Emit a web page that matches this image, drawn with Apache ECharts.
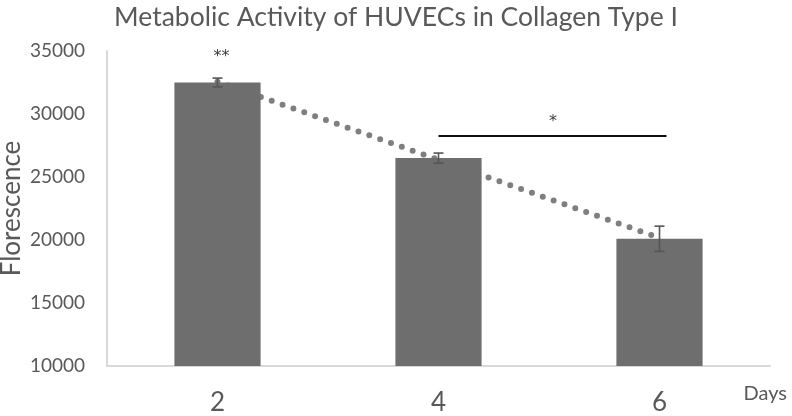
<!DOCTYPE html>
<html>
<head>
<meta charset="utf-8">
<script src="https://cdn.jsdelivr.net/npm/echarts@6/dist/echarts.min.js"></script>
<style>
  html, body { margin: 0; padding: 0; background: #fff; }
  #main { width: 792px; height: 416px; }
</style>
</head>
<body>
<div id="main"></div>
<script>
// data
const days = ['2', '4', '6']
const fluorescence = [32500, 26500, 20100]
const errors = [350, 400, 1000]
// significance annotations (star placed between category indices from..to)
const starLabels = ['**', '*']
const starFrom = [0, 1]
const starTo = [0, 2]
const starY = [34500, 29400]
const bracketFrom = [1]
const bracketTo = [2]
const bracketY = [28250]

const textColor = '#595959'
const font = 'Lato, "Open Sans", sans-serif'

// linear trendline over category index
const n = fluorescence.length
const mx = (n - 1) / 2
const my = fluorescence.reduce((a, b) => a + b, 0) / n
let sxy = 0, sxx = 0
fluorescence.forEach((v, i) => { sxy += (i - mx) * (v - my); sxx += (i - mx) * (i - mx) })
const slope = sxy / sxx
const trend = fluorescence.map((v, i) => my + slope * (i - mx))

const chart = echarts.init(document.getElementById('main'))
const option = {
  animation: false,
  title: {
    text: 'Metabolic Activity of HUVECs in Collagen Type I',
    left: 'center',
    top: -1,
    textStyle: { color: textColor, fontSize: 26.5, fontWeight: 'normal', fontFamily: font }
  },
  grid: { left: 107, right: 22, top: 51, bottom: 50, outerBoundsMode: 'none' },
  xAxis: {
    type: 'category',
    data: days,
    axisTick: { show: false },
    axisLine: { lineStyle: { color: '#d9d9d9', width: 2 } },
    axisLabel: { color: textColor, fontSize: 26, fontFamily: font, margin: 24 },
    name: 'Days',
    nameLocation: 'end',
    nameGap: 17,
    nameTextStyle: {
      color: textColor, fontSize: 20, fontFamily: font,
      align: 'right', verticalAlign: 'top', padding: [18, 0, 0, 0]
    }
  },
  yAxis: {
    type: 'value',
    min: 10000,
    max: 35000,
    interval: 5000,
    splitLine: { show: false },
    axisTick: { show: false },
    axisLine: { show: true, lineStyle: { color: '#d9d9d9', width: 2 } },
    axisLabel: { color: textColor, fontSize: 19, fontFamily: font, margin: 22, formatter: (v) => String(v) },
    name: 'Florescence',
    nameLocation: 'middle',
    nameGap: 82,
    nameMoveOverlap: false,
    nameTextStyle: { color: textColor, fontSize: 26, fontFamily: font }
  },
  series: [
    {
      type: 'line',
      data: trend,
      z: 1,
      symbol: 'none',
      silent: true,
      lineStyle: { color: '#7f7f7f', width: 6, type: [0, 11.5], cap: 'round' }
    },
    {
      type: 'bar',
      data: fluorescence,
      barWidth: '39%',
      z: 2,
      itemStyle: { color: '#6e6e6e' }
    },
    {
      type: 'custom',
      z: 3,
      data: fluorescence.map((v, i) => [i, v - errors[i], v + errors[i]]),
      renderItem: (params, api) => {
        const lo = api.coord([api.value(0), api.value(1)])
        const hi = api.coord([api.value(0), api.value(2)])
        const w = 5
        const style = { stroke: '#555', lineWidth: 1.6 }
        return {
          type: 'group',
          children: [
            { type: 'line', shape: { x1: lo[0], y1: lo[1], x2: hi[0], y2: hi[1] }, style },
            { type: 'line', shape: { x1: lo[0] - w, y1: lo[1], x2: lo[0] + w, y2: lo[1] }, style },
            { type: 'line', shape: { x1: hi[0] - w, y1: hi[1], x2: hi[0] + w, y2: hi[1] }, style }
          ]
        }
      }
    },
    {
      type: 'custom',
      z: 4,
      data: bracketY.map((y, i) => [bracketFrom[i], bracketTo[i], y]),
      renderItem: (params, api) => {
        const a = api.coord([api.value(0), api.value(2)])
        const b = api.coord([api.value(1), api.value(2)])
        return {
          type: 'line',
          shape: { x1: a[0], y1: a[1], x2: b[0] + 7, y2: b[1] },
          style: { stroke: '#111', lineWidth: 2 }
        }
      }
    },
    {
      type: 'custom',
      z: 4,
      data: starLabels.map((s, i) => [starFrom[i], starTo[i], starY[i]]),
      renderItem: (params, api) => {
        const a = api.coord([api.value(0), api.value(2)])
        const b = api.coord([api.value(1), api.value(2)])
        return {
          type: 'text',
          x: (a[0] + b[0]) / 2 + 4,
          y: a[1],
          style: {
            text: starLabels[params.dataIndex],
            fill: '#404040',
            fontSize: 16,
            fontFamily: '"DejaVu Sans", sans-serif',
            align: 'center',
            verticalAlign: 'middle'
          }
        }
      }
    }
  ]
}
chart.setOption(option)
</script>
</body>
</html>
